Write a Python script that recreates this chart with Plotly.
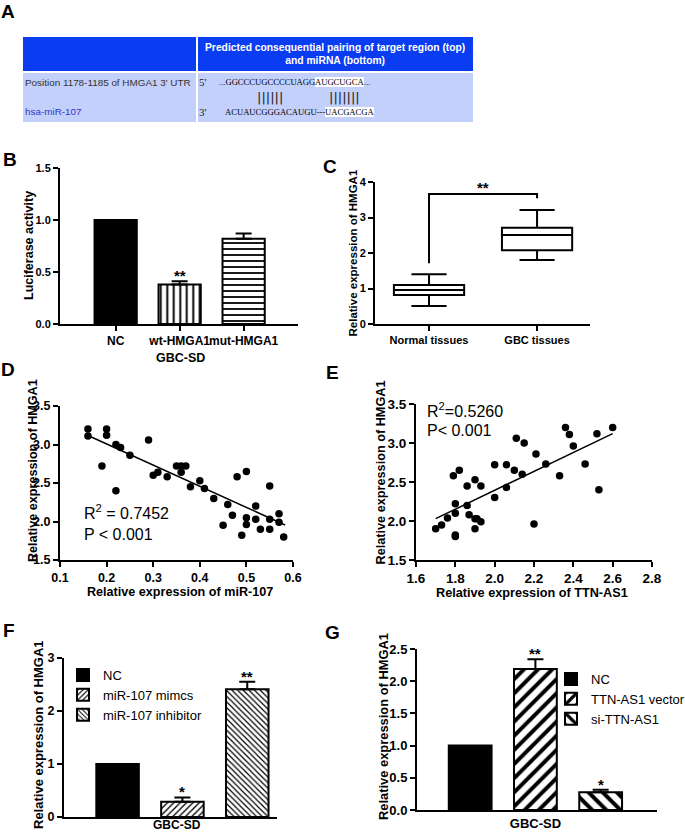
import plotly.graph_objects as go

# ---------------- data ----------------
# Panel B
b_categories = ["NC", "wt-HMGA1", "mut-HMGA1"]
b_values = [1.0, 0.38, 0.82]
b_errors = [0.0, 0.03, 0.05]
b_stars = ["", "**", ""]

# Panel C (box summary)
c_categories = ["Normal tissues", "GBC tissues"]
c_lower = [0.51, 1.80]
c_q1 = [0.82, 2.08]
c_median = [0.96, 2.51]
c_q3 = [1.10, 2.71]
c_upper = [1.40, 3.21]
c_bracket_y = [1.71, 3.66, 3.66, 3.54]

# Panel D (miR-107 vs HMGA1)
d_x = [0.16, 0.16, 0.19, 0.20, 0.20, 0.22, 0.22, 0.23, 0.25, 0.29, 0.30, 0.31, 0.33,
       0.35, 0.36, 0.36, 0.37, 0.38, 0.40, 0.41, 0.43, 0.45, 0.46, 0.47, 0.48, 0.49,
       0.50, 0.50, 0.50, 0.52, 0.52, 0.53, 0.55, 0.55, 0.55, 0.57, 0.57, 0.58]
d_y = [3.20, 3.11, 2.72, 3.20, 3.12, 3.00, 2.40, 2.96, 2.86, 3.06, 2.60, 2.64, 2.58,
       2.72, 2.72, 2.64, 2.72, 2.45, 2.53, 2.43, 2.30, 1.95, 2.22, 2.08, 2.58, 1.82,
       2.65, 2.05, 1.96, 2.20, 2.03, 1.90, 2.46, 2.03, 1.90, 2.10, 1.99, 1.80]
d_fit_x = [0.166, 0.583]
d_fit_y = [3.10, 1.955]

# Panel E (TTN-AS1 vs HMGA1)
e_x = [1.70, 1.73, 1.76, 1.79, 1.80, 1.80, 1.80, 1.80, 1.82, 1.86, 1.86, 1.87, 1.90,
       1.90, 1.90, 1.91, 1.93, 1.93, 2.00, 2.00, 2.06, 2.06, 2.10, 2.11, 2.14, 2.15,
       2.20, 2.21, 2.26, 2.33, 2.36, 2.38, 2.40, 2.46, 2.52, 2.53, 2.60]
e_y = [1.90, 1.95, 2.04, 2.58, 2.22, 2.10, 1.82, 1.80, 2.65, 2.45, 2.20, 2.08, 2.53,
       2.03, 1.90, 2.03, 2.45, 1.99, 2.72, 2.30, 2.72, 2.43, 2.65, 3.06, 2.60, 3.00,
       1.96, 2.86, 2.73, 2.58, 3.20, 3.11, 2.96, 2.73, 3.12, 2.40, 3.20]
e_fit_x = [1.70, 2.60]
e_fit_y = [2.03, 3.12]

# Panel F
f_group = ["GBC-SD"]
f_names = ["NC", "miR-107 mimcs", "miR-107 inhibitor"]
f_values = [1.0, 0.29, 2.41]
f_errors = [0.0, 0.08, 0.14]
f_stars = ["", "*", "**"]

# Panel G
g_group = ["GBC-SD"]
g_names = ["NC", "TTN-AS1 vector", "si-TTN-AS1"]
g_values = [1.0, 2.19, 0.275]
g_errors = [0.0, 0.15, 0.04]
g_stars = ["", "**", "*"]

# ---------------- helpers ----------------
W, H = 685, 833
SANS = "Liberation Sans, Arial, sans-serif"
SERIF = "Liberation Serif, Times New Roman, serif"


def fx(p):
    return p / W


def fy(p):
    return 1 - p / H


def axstyle(size=11, ticks="outside", ticklen=5):
    return dict(showline=True, linecolor="black", linewidth=2, ticks=ticks, ticklen=ticklen,
                tickwidth=2, tickcolor="black", showgrid=False, zeroline=False,
                automargin=False,
                tickfont=dict(family=SANS, size=size, color="black", weight="bold"))


def err(v):
    return dict(type="data", array=[v], arrayminus=[0], symmetric=False,
                color="black", thickness=2, width=8)


fig = go.Figure()

# ---------------- B ----------------
b_patterns = [dict(shape=""), dict(shape="|", fgcolor="black", bgcolor="white", size=6.5, solidity=0.3),
              dict(shape="-", fgcolor="black", bgcolor="white", size=6, solidity=0.3)]
b_colors = ["black", "white", "white"]
for i in range(3):
    kw = {"error_y": err(b_errors[i])} if b_errors[i] > 0 else {}
    fig.add_trace(go.Bar(x=[b_categories[i]], y=[b_values[i]], width=0.66, offsetgroup="b",
                         xaxis="x", yaxis="y", showlegend=False,
                         marker=dict(color=b_colors[i], line=dict(color="black", width=2),
                                     pattern=b_patterns[i]), **kw))

# ---------------- C ----------------
fig.add_trace(go.Box(
    x=c_categories, q1=c_q1, median=c_median, q3=c_q3, lowerfence=c_lower,
    upperfence=c_upper, xaxis="x2", yaxis="y2", showlegend=False, width=0.65,
    whiskerwidth=0.5, fillcolor="white", line=dict(color="black", width=2),
    boxpoints=False))
fig.add_trace(go.Scatter(
    x=[c_categories[0], c_categories[0], c_categories[1], c_categories[1]],
    y=c_bracket_y, mode="lines", line=dict(color="black", width=2),
    xaxis="x2", yaxis="y2", showlegend=False, hoverinfo="skip"))

# ---------------- D ----------------
fig.add_trace(go.Scatter(x=d_x, y=d_y, mode="markers", marker=dict(color="black", size=7.5),
                         xaxis="x3", yaxis="y3", showlegend=False))
fig.add_trace(go.Scatter(x=d_fit_x, y=d_fit_y, mode="lines", line=dict(color="black", width=1.5),
                         xaxis="x3", yaxis="y3", showlegend=False))

# ---------------- E ----------------
fig.add_trace(go.Scatter(x=e_x, y=e_y, mode="markers", marker=dict(color="black", size=7.5),
                         xaxis="x4", yaxis="y4", showlegend=False))
fig.add_trace(go.Scatter(x=e_fit_x, y=e_fit_y, mode="lines", line=dict(color="black", width=1.5),
                         xaxis="x4", yaxis="y4", showlegend=False))

# ---------------- F ----------------
f_patterns = [dict(shape=""), dict(shape="/", fgcolor="black", bgcolor="white", size=4.5, solidity=0.3),
              dict(shape="\\", fgcolor="black", bgcolor="white", size=4, solidity=0.3)]
f_colors = ["black", "white", "white"]
for i in range(3):
    kw = {"error_y": err(f_errors[i])} if f_errors[i] > 0 else {}
    fig.add_trace(go.Bar(x=f_group, y=[f_values[i]], name=f_names[i], xaxis="x5", yaxis="y5",
                         legend="legend",
                         marker=dict(color=f_colors[i], line=dict(color="black", width=2),
                                     pattern=f_patterns[i]), **kw))

# ---------------- G ----------------
g_patterns = [dict(shape=""), dict(shape="/", fgcolor="black", bgcolor="white", size=10, solidity=0.4),
              dict(shape="\\", fgcolor="black", bgcolor="white", size=10, solidity=0.4)]
g_colors = ["black", "white", "white"]
for i in range(3):
    kw = {"error_y": err(g_errors[i])} if g_errors[i] > 0 else {}
    fig.add_trace(go.Bar(x=g_group, y=[g_values[i]], name=g_names[i], xaxis="x6", yaxis="y6",
                         legend="legend2",
                         marker=dict(color=g_colors[i], line=dict(color="black", width=2),
                                     pattern=g_patterns[i]), **kw))

# ---------------- axes ----------------
layout = dict(
    template="none",
    width=W, height=H, autosize=False, margin=dict(l=0, r=0, t=0, b=0, autoexpand=False),
    paper_bgcolor="white", plot_bgcolor="white",
    barmode="group", bargap=0.2, bargroupgap=0.344,
    font=dict(family=SANS, color="black"),
)
layout["xaxis"] = dict(axstyle(12), domain=[fx(60), fx(298)], anchor="y", type="category",
                       range=[-0.87, 2.85], tickangle=0)
layout["yaxis"] = dict(axstyle(11), domain=[fy(324), fy(168)], anchor="x", range=[0, 1.5],
                       dtick=0.5, tickformat=".1f")
layout["xaxis2"] = dict(axstyle(11), domain=[fx(375), fx(590)], anchor="y2", type="category",
                        range=[-0.5, 1.49], tickangle=0)
layout["yaxis2"] = dict(axstyle(11), domain=[fy(324), fy(182)], anchor="x2", range=[0, 4], dtick=1)
layout["xaxis3"] = dict(axstyle(12.5), domain=[fx(60), fx(293)], anchor="y3", range=[0.1, 0.6],
                        dtick=0.1, tickformat=".1f")
layout["yaxis3"] = dict(axstyle(12.5), domain=[fy(560), fy(406)], anchor="x3", range=[1.5, 3.5],
                        dtick=0.5, tickformat=".1f")
layout["xaxis4"] = dict(axstyle(13.5), domain=[fx(416), fx(652)], anchor="y4", range=[1.6, 2.8],
                        dtick=0.2, tickformat=".1f")
layout["yaxis4"] = dict(axstyle(13.5), domain=[fy(560), fy(404)], anchor="x4", range=[1.5, 3.5],
                        dtick=0.5, tickformat=".1f")
layout["xaxis5"] = dict(axstyle(12, ticks="", ticklen=0), domain=[fx(64), fx(277)], anchor="y5",
                        type="category", range=[-0.487, 0.389], showticklabels=False)
layout["yaxis5"] = dict(axstyle(12.5), domain=[fy(817), fy(658)], anchor="x5", range=[0, 3], dtick=1)
layout["xaxis6"] = dict(axstyle(13, ticks="", ticklen=0), domain=[fx(417), fx(657)], anchor="y6",
                        type="category", range=[-0.484, 0.497], tickangle=0)
layout["yaxis6"] = dict(axstyle(13), domain=[fy(810), fy(649)], anchor="x6", range=[0, 2.5],
                        dtick=0.5, tickformat=".1f")
layout["legend"] = dict(x=fx(63), y=fy(660), xanchor="left", yanchor="top",
                        font=dict(family=SANS, size=13, color="black"),
                        bgcolor="rgba(0,0,0,0)", tracegroupgap=0)
layout["legend2"] = dict(x=fx(551), y=fy(664), xanchor="left", yanchor="top",
                         font=dict(family=SANS, size=13, color="black"),
                         bgcolor="rgba(0,0,0,0)", tracegroupgap=0)
fig.update_layout(**layout)

ann = []


def txt(text, x, y, size=12, bold=True, family=SANS, color="black", xanchor="center",
        yanchor="middle", angle=0, **kw):
    ann.append(dict(text=text, x=fx(x), y=fy(y), xref="paper", yref="paper", showarrow=False,
                    xanchor=xanchor, yanchor=yanchor, textangle=angle,
                    font=dict(family=family, size=size, color=color,
                              weight="bold" if bold else "normal"), **kw))


# panel letters
for letter, x, y in [("A", 8, 12), ("B", 10, 159), ("C", 330, 166), ("D", 8, 370),
                     ("E", 332, 372), ("F", 9, 630), ("G", 332, 632)]:
    txt(letter, x, y, size=19)

# axis titles
txt("Luciferase activity", 29, 246, size=12.5, angle=-90)
txt("GBC-SD", 180, 358, size=12.5)
txt("Relative expression of HMGA1", 353, 252.5, size=11.5, angle=-90)
txt("Relative expression of HMGA1", 33, 471, size=12.6, angle=-90)
txt("Relative expression of miR-107", 180, 592, size=12.6)
txt("Relative expression of HMGA1", 380, 472.5, size=12.7, angle=-90)
txt("Relative expression of TTN-AS1", 532, 593, size=12.7)
txt("Relative expression of HMGA1", 38, 735, size=13, angle=-90)
txt("Relative expression of HMGA1", 383, 727, size=12.9, angle=-90)
txt(f_group[0], 177, 833, size=12, yanchor="bottom", borderpad=0)

# stats text
txt("R<sup>2</sup> = 0.7452", 82, 512, size=16, bold=False, xanchor="left")
txt("P < 0.001", 82, 534, size=16, bold=False, xanchor="left")
txt("R<sup>2</sup>=0.5260", 425, 410, size=16, bold=False, xanchor="left")
txt("P< 0.001", 425, 430, size=16, bold=False, xanchor="left")

# significance stars on data coordinates
for i, s in enumerate(b_stars):
    if s:
        ann.append(dict(text=s, x=b_categories[i], y=b_values[i] + b_errors[i], xref="x", yref="y",
                        showarrow=False, yanchor="bottom", yshift=-5,
                        font=dict(family=SANS, size=15, weight="bold", color="black")))
ann.append(dict(text="**", x=0.5, y=c_bracket_y[1], xref="x2", yref="y2", showarrow=False,
                yanchor="bottom", yshift=-4, font=dict(family=SANS, size=15, weight="bold", color="black")))
for i, s in enumerate(f_stars):
    if s:
        ann.append(dict(text=s, x=f_group[0], y=f_values[i] + f_errors[i], xref="x5", yref="y5",
                        showarrow=False, yanchor="bottom", yshift=-5, xshift=(i - 1) * 64.75,
                        font=dict(family=SANS, size=15, weight="bold", color="black")))
for i, s in enumerate(g_stars):
    if s:
        ann.append(dict(text=s, x=g_group[0], y=g_values[i] + g_errors[i], xref="x6", yref="y6",
                        showarrow=False, yanchor="bottom", yshift=-5, xshift=(i - 1) * 65.25,
                        font=dict(family=SANS, size=15, weight="bold", color="black")))

# ---------------- panel A table ----------------
HEAD = "#0a3cf2"
BODY = "#c3d0fb"
shapes = []
for (x0, x1, y0, y1, c) in [(23, 196, 37, 71, HEAD), (198, 473, 37, 71, HEAD),
                            (23, 196, 73, 122, BODY), (198, 473, 73, 122, BODY)]:
    shapes.append(dict(type="rect", xref="paper", yref="paper", x0=fx(x0), x1=fx(x1),
                       y0=fy(y1), y1=fy(y0), fillcolor=c, line=dict(width=0), layer="below"))
fig.update_layout(shapes=shapes)

txt("Predicted consequential pairing of target region (top)<br>and miRNA (bottom)", 335, 54,
    size=10.3, family=SANS, color="white")
txt("Position 1178-1185 of HMGA1 3' UTR", 23, 82, size=9.9, bold=False, family=SANS,
    color="#333333", xanchor="left")
txt("hsa-miR-107", 23, 112, size=9.9, bold=False, family=SANS, color="#3535c0", xanchor="left")
txt("5'", 197, 82, size=11, bold=False, family=SERIF, color="#222222", xanchor="left")
txt("3'", 197, 112, size=11, bold=False, family=SERIF, color="#222222", xanchor="left")
seq = dict(size=8.6, bold=False, family=SERIF, color="black", borderpad=0, borderwidth=0)
txt("...GGCCCUGCCCCUAGG", 315, 82, xanchor="right", **seq)
txt("AUGCUGCA", 315, 82, xanchor="left", bgcolor="white", **seq)
txt("...", 364, 82, xanchor="left", **seq)
txt("ACUAUCGGGACAUGU---", 325, 112, xanchor="right", **seq)
txt("UACGACGA", 325, 112, xanchor="left", bgcolor="white", **seq)
txt("||||||", 270, 97, size=13, bold=False, family="DejaVu Sans", color="#222222")
txt("|||||||", 344, 97, size=13, bold=False, family="DejaVu Sans", color="#222222")

fig.update_layout(annotations=ann)
fig.write_html("out.html", config={"displayModeBar": False},
               post_script="document.body.style.margin='0px';")
